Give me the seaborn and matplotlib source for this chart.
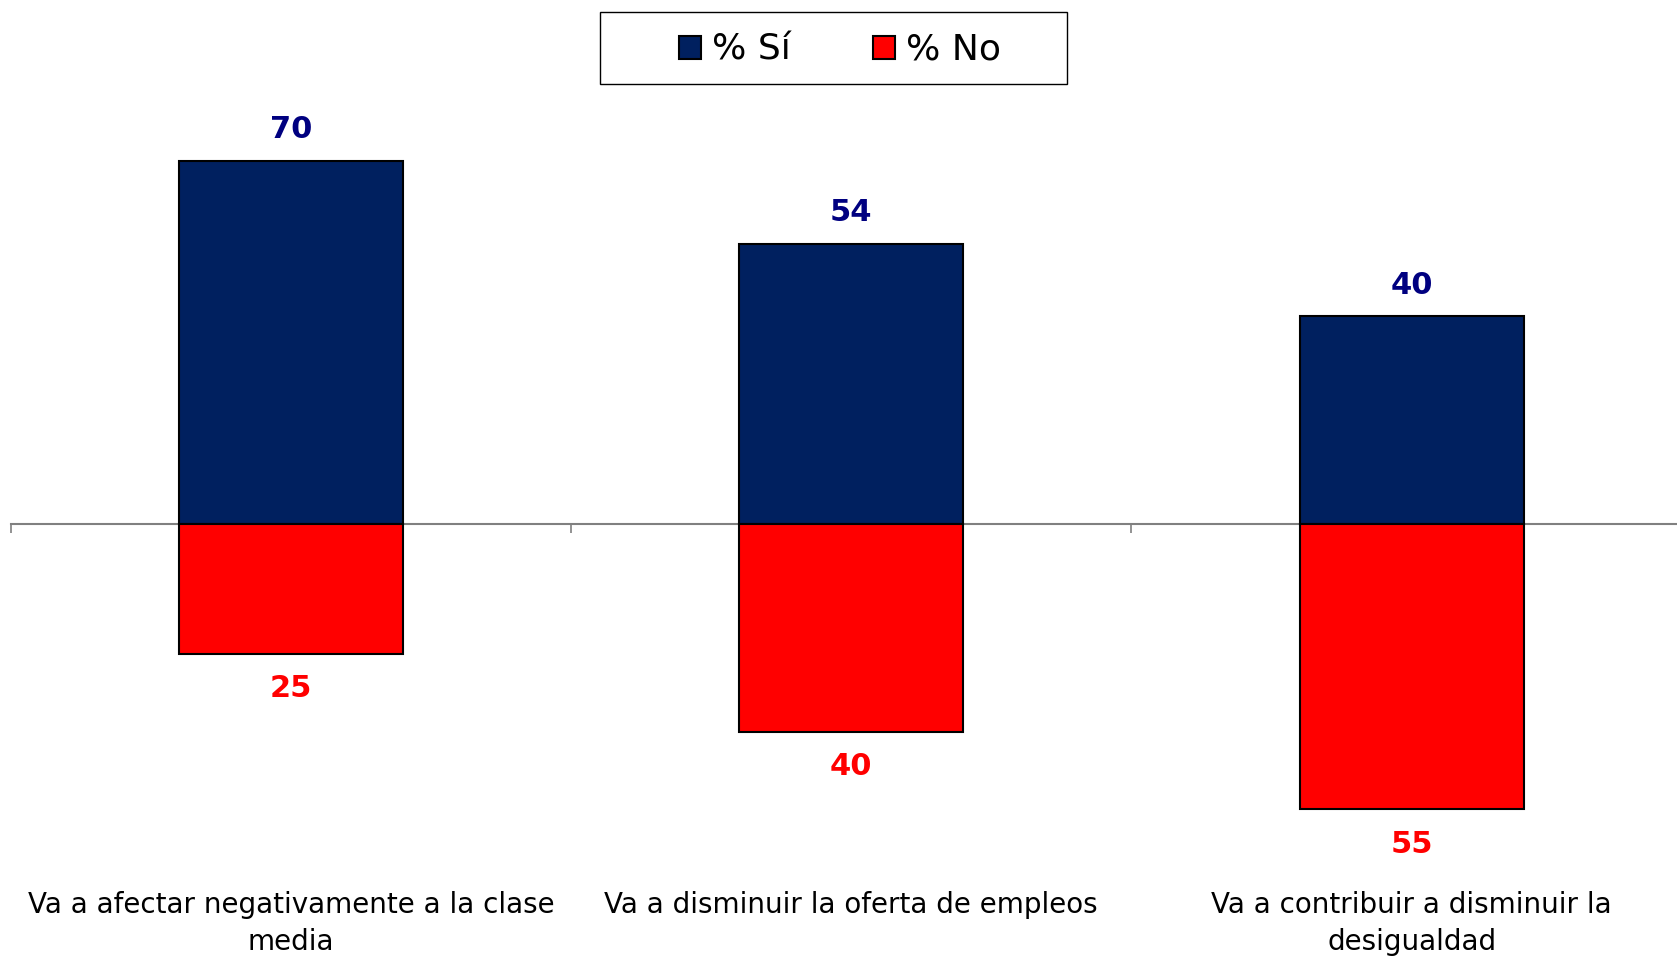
import matplotlib
matplotlib.use("Agg")
import matplotlib.pyplot as plt
from matplotlib.patches import Patch, Rectangle
from matplotlib.transforms import blended_transform_factory
import seaborn as sns

# ── Data ──────────────────────────────────────────────────────────────────────
CATEGORIES = [
    "Va a afectar negativamente a la clase\nmedia",
    "Va a disminuir la oferta de empleos",
    "Va a contribuir a disminuir la\ndesigualdad",
]
PCT_SI = [70, 54, 40]
PCT_NO = [25, 40, 55]
SERIES_NAMES = ["% Sí", "% No"]

NAVY = "#00205F"
RED = "#FF0000"
LABEL_BLUE = "#000080"

sns.set_theme(style="white")
plt.rcParams["font.family"] = ["DejaVu Sans"]

fig = plt.figure(figsize=(16.77, 9.59), dpi=100)
# axes placed so that y=0 sits at ~524 px and one unit is ~5.19 px
ax = fig.add_axes([0.00638, 0.1289, 0.9936, 0.7576])

x_idx = list(range(len(CATEGORIES)))
sns.barplot(x=x_idx, y=PCT_SI, color=NAVY, saturation=1, width=0.4,
            edgecolor="black", linewidth=1.5, ax=ax, zorder=3)
sns.barplot(x=x_idx, y=[-v for v in PCT_NO], color=RED, saturation=1, width=0.4,
            edgecolor="black", linewidth=1.5, ax=ax, zorder=3)

ax.set_xlim(-0.5, 2.4734)
ax.set_ylim(-60, 80)

# axis styling: only the zero line with category boundary ticks
for side in ["top", "right", "left"]:
    ax.spines[side].set_visible(False)
ax.spines["bottom"].set_position(("data", 0))
ax.spines["bottom"].set_color("#808080")
ax.spines["bottom"].set_linewidth(1.5)
ax.spines["bottom"].set_zorder(1)
ax.set_xticks([-0.5, 0.5, 1.5])
ax.set_xticklabels([])
ax.tick_params(axis="x", direction="out", length=6.5, width=1.2,
               color="#808080", bottom=True)
ax.set_yticks([])
ax.set_xlabel("")
ax.set_ylabel("")

# value labels
for i, (s, n) in enumerate(zip(PCT_SI, PCT_NO)):
    ax.annotate(f"{s}", (i, s), xytext=(0, 31), textcoords="offset pixels",
                ha="center", va="center", fontsize=22, fontweight="bold",
                color=LABEL_BLUE)
    ax.annotate(f"{n}", (i, -n), xytext=(0, -35), textcoords="offset pixels",
                ha="center", va="center", fontsize=22, fontweight="bold",
                color=RED)

# category labels below the chart
trans = blended_transform_factory(ax.transData, fig.transFigure)
for i, lab in enumerate(CATEGORIES):
    ax.text(i, 1 - 891 / 959, lab, transform=trans, ha="center", va="top",
            fontsize=20, color="black", linespacing=1.4, clip_on=False)

# legend with its own frame
handles = [Patch(facecolor=NAVY, edgecolor="black", linewidth=1.5),
           Patch(facecolor=RED, edgecolor="black", linewidth=1.5)]
fig.legend(handles, SERIES_NAMES, loc="center",
           bbox_to_anchor=(840 / 1677, 1 - 50 / 959), ncol=2,
           frameon=False, fontsize=26, handlelength=0.6, handleheight=0.6,
           handletextpad=0.3, columnspacing=2.3, labelcolor="black")
fig.patches.append(Rectangle((600 / 1677, 1 - 83.5 / 959), 467 / 1677, 71.5 / 959,
                             transform=fig.transFigure, facecolor="none",
                             edgecolor="black", linewidth=1.0))

plt.savefig("out.png", dpi=100)
plt.close()
